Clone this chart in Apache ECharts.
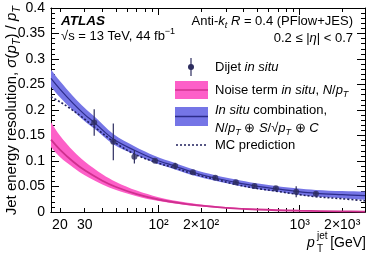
<!DOCTYPE html>
<html><head><meta charset="utf-8">
<script src="https://cdn.jsdelivr.net/npm/echarts@6/dist/echarts.min.js"></script>
<style>html,body{margin:0;padding:0;background:#fff}#c{width:374px;height:253px}</style>
</head><body><div id="c"></div>
<script>
// ---------- data ----------
const xMin = 17.3, xMax = 2900;
const yMin = 0, yMax = 0.4, yStep = 0.05;

// Dijet in situ measurements
const dijetPt  = [35.0, 47.8, 67.4, 94.4, 131, 175, 252, 353, 478, 678, 944, 1303];
const dijetRes = [0.1756, 0.1376, 0.1083, 0.1004, 0.0901, 0.0777, 0.0672, 0.0582, 0.0509, 0.0464, 0.0397, 0.0358];
const dijetErr = [0.026, 0.036, 0.013, 0.003, 0.0065, 0.003, 0.003, 0.003, 0.003, 0.003, 0.011, 0.004];

// In situ combination (central value and band half-width)
const combPt  = [17.3, 20, 25, 30, 35, 47.8, 67.4, 94.4, 131, 175, 252, 353, 478, 678, 944, 1303, 2000, 2900];
const combRes = [0.262, 0.241, 0.212, 0.191, 0.1756, 0.143, 0.121, 0.103, 0.0898, 0.078, 0.0667, 0.058, 0.0512, 0.0455, 0.0405, 0.0367, 0.034, 0.032];
const combUnc = [0.017, 0.016, 0.014, 0.013, 0.012, 0.010, 0.008, 0.007, 0.0065, 0.006, 0.0055, 0.0055, 0.0055, 0.0055, 0.006, 0.0065, 0.007, 0.008];

// MC prediction
const mcPt  = [17.3, 20, 22.8, 28.4, 35, 48, 67, 94, 131, 175, 252, 353, 478, 678, 944, 1303, 2000, 2900];
const mcRes = [0.226, 0.216, 0.206, 0.187, 0.167, 0.138, 0.114, 0.098, 0.086, 0.075, 0.064, 0.054, 0.047, 0.041, 0.035, 0.030, 0.026, 0.022];

// Noise term in situ
const noisePt  = [17.3, 20, 25, 30, 40, 50, 70, 100, 150, 200, 300, 500, 1000, 2000, 2900];
const noiseRes = [0.142, 0.1225, 0.098, 0.0817, 0.0613, 0.049, 0.035, 0.0245, 0.0163, 0.0123, 0.0082, 0.0049, 0.00245, 0.0012, 0.00085];
const noiseUp  = [0.176, 0.150, 0.119, 0.099, 0.074, 0.059, 0.042, 0.029, 0.0195, 0.0146, 0.0097, 0.0058, 0.0029, 0.0015, 0.001];
const noiseLo  = [0.127, 0.108, 0.087, 0.072, 0.054, 0.043, 0.031, 0.0215, 0.0143, 0.0108, 0.0072, 0.0043, 0.0022, 0.0011, 0.0007];

// axis ticks / labels
const xMajorTicks = [100, 1000];
const xMinorTicks = [20, 30, 40, 50, 60, 70, 80, 90, 200, 300, 400, 500, 600, 700, 800, 900, 2000];
const xLabelValues = [20, 30, 100, 200, 1000, 2000];
const xLabelTexts  = ['20', '30', '10²', '2×10²', '10³', '2×10³'];

// ---------- build ----------
const F = "'Liberation Sans', Arial, Helvetica, sans-serif";
const C_PINK = '#fd5fc8', C_PINKL = '#d0308f';
const C_BLUE = '#7575e6', C_BLUEL = '#2c2c8a';
const C_MC = '#1f1f5c', C_PT = '#2d2d5f';

const zip = (a, b) => a.map((v, i) => [v, b[i]]);

function xAx(pos, ticks, len, withLabels) {
  return {
    type: 'log', logBase: 10, min: xMin, max: xMax, position: pos, gridIndex: 0,
    axisLine: { show: true, lineStyle: { color: '#000', width: 1 } },
    axisTick: { show: true, inside: true, length: len, customValues: ticks, lineStyle: { color: '#000', width: 1 } },
    axisLabel: withLabels ? {
      show: true, customValues: xLabelValues, margin: 6,
      fontFamily: F, fontSize: 14, color: '#000',
      formatter: v => {
        const i = xLabelValues.findIndex(t => Math.abs(Math.log10(t) - Math.log10(v)) < 0.005);
        return i >= 0 ? xLabelTexts[i] : '';
      }
    } : { show: false },
    splitLine: { show: false }, minorTick: { show: false }, minorSplitLine: { show: false }
  };
}
function yAx(pos, withLabels) {
  return {
    type: 'value', min: yMin, max: yMax, interval: yStep, position: pos,
    axisLine: { show: true, lineStyle: { color: '#000', width: 1 } },
    axisTick: { show: true, inside: true, length: 8, lineStyle: { color: '#000', width: 1 } },
    minorTick: { show: true, splitNumber: 5, length: 4, lineStyle: { color: '#000', width: 1 } },
    axisLabel: withLabels ? { show: true, margin: 6, fontFamily: F, fontSize: 14, color: '#000' } : { show: false },
    splitLine: { show: false }
  };
}

function richStyles(fs, lh) {
  return {
    n: { fontFamily: F, fontSize: fs, fill: '#000', lineHeight: lh },
    i: { fontFamily: F, fontSize: fs, fill: '#000', fontStyle: 'italic', lineHeight: lh },
    b: { fontFamily: F, fontSize: fs, fill: '#000', fontStyle: 'italic', fontWeight: 'bold', lineHeight: lh },
    sub: { fontFamily: F, fontSize: Math.round(fs * 0.7), fill: '#000', verticalAlign: 'bottom', lineHeight: 8 },
    isub: { fontFamily: F, fontSize: Math.round(fs * 0.7), fill: '#000', fontStyle: 'italic', verticalAlign: 'bottom', lineHeight: 8 },
    sup: { fontFamily: F, fontSize: Math.round(fs * 0.7), fill: '#000', verticalAlign: 'top', lineHeight: 8 }
  };
}
function rtext(x, y, text, fs, align, extra) {
  return Object.assign({
    type: 'text', x: x, y: y, z: 100,
    style: { text: text, rich: richStyles(fs, fs + 5), align: align || 'left', verticalAlign: 'middle',
             fontFamily: F, fontSize: fs, fill: '#000' }
  }, extra || {});
}

const graphics = [
  rtext(61, 21, '{b|ATLAS}', 13.5),
  rtext(61, 36, '{n|√s = 13 TeV, 44 fb}{sup|−1}', 13),
  rtext(353, 21, '{n|Anti-}{i|k}{isub|t}{n| }{i|R}{n| = 0.4 (PFlow+JES)}', 13, 'right'),
  rtext(353, 38, '{n|0.2 ≤ |}{i|η}{n|| < 0.7}', 13, 'right'),
  // legend
  { type: 'line', z: 100, shape: { x1: 191, y1: 58, x2: 191, y2: 76 }, style: { stroke: C_PT, lineWidth: 1.2 } },
  { type: 'circle', z: 100, shape: { cx: 191, cy: 67, r: 3 }, style: { fill: C_PT } },
  rtext(215, 67, '{n|Dijet }{i|in situ}', 13),
  { type: 'rect', z: 100, shape: { x: 175, y: 81, width: 33, height: 18 }, style: { fill: C_PINK } },
  { type: 'line', z: 100, shape: { x1: 175, y1: 90, x2: 208, y2: 90 }, style: { stroke: C_PINKL, lineWidth: 1.5 } },
  rtext(215, 90, '{n|Noise term }{i|in situ}{n|, }{i|N}{n|/}{i|p}{isub|T}', 13),
  { type: 'rect', z: 100, shape: { x: 175, y: 107, width: 33, height: 19 }, style: { fill: C_BLUE } },
  { type: 'line', z: 100, shape: { x1: 175, y1: 116.5, x2: 208, y2: 116.5 }, style: { stroke: C_BLUEL, lineWidth: 1.5 } },
  rtext(215, 110, '{i|In situ}{n| combination,}', 13),
  rtext(215, 128, '{i|N}{n|/}{i|p}{isub|T}{n| ⊕ }{i|S}{n|/√}{i|p}{isub|T}{n| ⊕ }{i|C}', 13),
  { type: 'line', z: 100, shape: { x1: 176, y1: 145, x2: 208, y2: 145 }, style: { stroke: C_MC, lineWidth: 1.6, lineDash: [2, 2] } },
  rtext(215, 145, '{n|MC prediction}', 13),
  // y-axis title
  rtext(12, 6, '{n|Jet energy resolution, }{i|σ}{n|(}{i|p}{isub|T}{n|) / }{i|p}{isub|T}', 15, 'right', { rotation: Math.PI / 2 }),
  // x-axis title
  rtext(307, 243, '{i|p}', 14),
  rtext(317, 236, '{n|jet}', 10),
  rtext(317, 249, '{n|T}', 10),
  rtext(366, 243, '{n|[GeV]}', 14, 'right')
];

// uncertainty band drawn as one polygon through the axis scales
function bandSeries(name, xs, lo, hi, color, z) {
  return {
    type: 'custom', name: name, xAxisIndex: 0, yAxisIndex: 0, z: z, silent: true, clip: true,
    data: xs.map((x, i) => [x, lo[i], hi[i]]),
    encode: { x: 0, y: [1, 2] },
    renderItem: (params, api) => {
      if (params.dataIndex !== 0) return null;
      const n = xs.length;
      const up = [], dn = [];
      for (let i = 0; i < n; i++) {
        up.push(api.coord([xs[i], hi[i]]));
        dn.push(api.coord([xs[i], lo[i]]));
      }
      dn.reverse();
      const pts = [up[0]].concat(up, [up[n - 1]], [dn[0]], dn, [dn[n - 1]]);
      return { type: 'polygon', shape: { points: pts, smooth: 0.35 }, style: { fill: color } };
    }
  };
}

const lineBase = { type: 'line', showSymbol: false, symbol: 'none', smooth: 0.35, xAxisIndex: 0, yAxisIndex: 0, silent: true };

const series = [
  bandSeries('noiseBand', noisePt, noiseLo, noiseUp, C_PINK, 1),
  Object.assign({}, lineBase, { name: 'noise', data: zip(noisePt, noiseRes), lineStyle: { width: 1.8, color: C_PINKL }, z: 2 }),
  bandSeries('combBand', combPt, combRes.map((v, i) => v - combUnc[i]), combRes.map((v, i) => v + combUnc[i]), C_BLUE, 3),
  Object.assign({}, lineBase, { name: 'comb', data: zip(combPt, combRes), lineStyle: { width: 1.2, color: C_BLUEL }, z: 4 }),
  Object.assign({}, lineBase, { name: 'mc', data: zip(mcPt, mcRes), lineStyle: { width: 1.6, color: C_MC, type: [2, 2] }, z: 5 }),
  {
    type: 'custom', name: 'err', xAxisIndex: 0, yAxisIndex: 0, z: 6, silent: true,
    data: dijetPt.map((x, i) => [x, dijetRes[i] - dijetErr[i], dijetRes[i] + dijetErr[i]]),
    encode: { x: 0, y: [1, 2] },
    renderItem: (params, api) => {
      const p1 = api.coord([api.value(0), api.value(1)]);
      const p2 = api.coord([api.value(0), api.value(2)]);
      return { type: 'line', shape: { x1: p1[0], y1: p1[1], x2: p2[0], y2: p2[1] }, style: { stroke: C_PT, lineWidth: 1.2 } };
    }
  },
  { type: 'scatter', name: 'dijet', xAxisIndex: 0, yAxisIndex: 0, z: 7, silent: true, symbol: 'circle', symbolSize: 6,
    itemStyle: { color: C_PT }, data: zip(dijetPt, dijetRes) }
];

const chart = echarts.init(document.getElementById('c'), null, { renderer: 'canvas' });
chart.setOption({
  animation: false,
  backgroundColor: '#fff',
  grid: { left: 51, right: 9, top: 8, bottom: 41, containLabel: false },
  xAxis: [
    xAx('bottom', xMajorTicks, 7, true),
    xAx('bottom', xMinorTicks, 4, false),
    xAx('top', xMajorTicks, 7, false),
    xAx('top', xMinorTicks, 4, false)
  ],
  yAxis: [yAx('left', true), yAx('right', false)],
  series: series,
  graphic: graphics
});
</script>
</body></html>
